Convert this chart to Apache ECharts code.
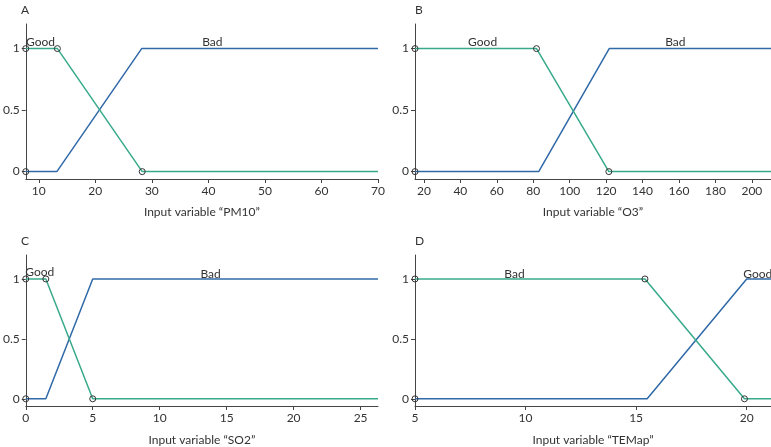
<!DOCTYPE html>
<html>
<head>
<meta charset="utf-8">
<title>Fuzzy membership functions</title>
<script type="text/javascript" src="https://cdn.jsdelivr.net/npm/echarts@6/dist/echarts.min.js"></script>
<style>
  html, body { margin: 0; padding: 0; background: #fff; }
</style>
</head>
<body>

<div id="main" style="width: 771px; height: 447px;"></div>

<script type="text/javascript">
// panel A - PM10
var pm10Range = [7.7, 70];
var pm10Ticks = [10, 20, 30, 40, 50, 60, 70];
var pm10GoodX = [7.7, 13.3, 28.3, 70];
var pm10GoodY = [1, 1, 0, 0];
var pm10BadX = [7.7, 13.2, 28.2, 70];
var pm10BadY = [0, 0, 1, 1];
var pm10Labels = [['Good', 10.3, 1.05], ['Bad', 40.7, 1.05]];

// panel B - O3
var o3Range = [15.1, 210.5];
var o3Ticks = [20, 40, 60, 80, 100, 120, 140, 160, 180, 200];
var o3GoodX = [15.1, 81.8, 121.5, 210.5];
var o3GoodY = [1, 1, 0, 0];
var o3BadX = [15.1, 83, 121.7, 210.5];
var o3BadY = [0, 0, 1, 1];
var o3Labels = [['Good', 52.2, 1.05], ['Bad', 158, 1.05]];

// panel C - SO2
var so2Range = [0, 26.3];
var so2Ticks = [0, 5, 10, 15, 20, 25];
var so2GoodX = [0, 1.5, 5, 26.3];
var so2GoodY = [1, 1, 0, 0];
var so2BadX = [0, 1.5, 5, 26.3];
var so2BadY = [0, 0, 1, 1];
var so2Labels = [['Good', 1.05, 1.06], ['Bad', 13.8, 1.04]];

// panel D - TEMap (green is "Bad" here)
var temRange = [5, 21.1];
var temTicks = [5, 10, 15, 20];
var temGreenX = [5, 15.4, 19.9, 21.1];
var temGreenY = [1, 1, 0, 0];
var temBlueX = [5, 15.5, 20, 21.1];
var temBlueY = [0, 0, 1, 1];
var temLabels = [['Bad', 9.5, 1.04], ['Good', 20.5, 1.04]];

var yTicks = [0, 0.5, 1];
var panelNames = ['A', 'B', 'C', 'D'];
var axisTitles = ['Input variable \u201cPM10\u201d', 'Input variable \u201cO3\u201d',
                  'Input variable \u201cSO2\u201d', 'Input variable \u201cTEMap\u201d'];

var GREEN = '#38aa8b';
var BLUE = '#3069a8';
var AXIS = '#444';
var TEXT = '#333';
var FONT = 'Lato';

var panels = [
  { range: pm10Range, ticks: pm10Ticks, gx: pm10GoodX, gy: pm10GoodY, bx: pm10BadX, by: pm10BadY, labels: pm10Labels },
  { range: o3Range, ticks: o3Ticks, gx: o3GoodX, gy: o3GoodY, bx: o3BadX, by: o3BadY, labels: o3Labels },
  { range: so2Range, ticks: so2Ticks, gx: so2GoodX, gy: so2GoodY, bx: so2BadX, by: so2BadY, labels: so2Labels },
  { range: temRange, ticks: temTicks, gx: temGreenX, gy: temGreenY, bx: temBlueX, by: temBlueY, labels: temLabels }
];

// grid boxes (left, top, width, height) and gap of axis title
var boxes = [
  [21, 24, 357, 155, 27],
  [415, 24, 356, 155, 27],
  [21, 255, 357, 157, 28],
  [415, 255, 356, 157, 28]
];

function zip(xs, ys) {
  var out = [];
  for (var i = 0; i < xs.length; i++) out.push([xs[i], ys[i]]);
  return out;
}

var grids = [], xAxes = [], yAxes = [], series = [], titles = [];
var dot = { color: 'transparent', borderColor: '#333', borderWidth: 1 };

panels.forEach(function (p, i) {
  var b = boxes[i];
  grids.push({ left: b[0], top: b[1], width: b[2], height: b[3], containLabel: false });
  titles.push({
    text: panelNames[i], left: b[0] - 5, top: b[1] - 25,
    textStyle: { fontFamily: FONT, fontSize: 12, fontWeight: 'normal', color: TEXT }
  });
  xAxes.push({
    gridIndex: i, type: 'value', min: p.range[0], max: p.range[1],
    name: axisTitles[i], nameLocation: 'middle', nameGap: b[4],
    nameTextStyle: { fontFamily: FONT, fontSize: 12, color: TEXT },
    axisLine: { onZero: false, lineStyle: { color: AXIS, width: 1 } },
    axisTick: { show: true, length: 4, customValues: p.ticks, lineStyle: { color: AXIS } },
    axisLabel: { customValues: p.ticks, margin: 6, fontFamily: FONT, fontSize: 12, color: TEXT,
                 showMinLabel: true, showMaxLabel: true },
    splitLine: { show: false }
  });
  yAxes.push({
    gridIndex: i, type: 'value', min: -0.06, max: 1.2,
    axisLine: { show: true, lineStyle: { color: AXIS, width: 1 } },
    axisTick: { show: true, length: 4, customValues: yTicks, lineStyle: { color: AXIS } },
    axisLabel: { customValues: yTicks, margin: 6, fontFamily: FONT, fontSize: 12, color: TEXT },
    splitLine: { show: false }
  });
  var nG = p.gx.length;
  series.push({
    type: 'line', xAxisIndex: i, yAxisIndex: i, data: zip(p.bx, p.by),
    lineStyle: { color: BLUE, width: 1.5 },
    itemStyle: dot,
    symbol: function (v, params) { return params.dataIndex === 0 ? 'circle' : 'none'; },
    symbolSize: 6, animation: false, z: 2
  });
  series.push({
    type: 'line', xAxisIndex: i, yAxisIndex: i, data: zip(p.gx, p.gy),
    lineStyle: { color: GREEN, width: 1.5 },
    itemStyle: dot,
    symbol: function (v, params) { return params.dataIndex < nG - 1 ? 'circle' : 'none'; },
    symbolSize: 6, animation: false, z: 3,
    markPoint: {
      symbol: 'circle', symbolSize: 1, silent: true,
      itemStyle: { color: 'transparent', borderWidth: 0 },
      label: { show: true, position: 'inside', fontFamily: FONT, fontSize: 12, color: TEXT,
               formatter: function (prm) { return prm.name; } },
      data: p.labels.map(function (l) { return { name: l[0], coord: [l[1], l[2]] }; })
    }
  });
});

var myChart = echarts.init(document.getElementById('main'), null, { renderer: 'canvas' });
myChart.setOption({
  backgroundColor: '#fff',
  animation: false,
  title: titles,
  grid: grids,
  xAxis: xAxes,
  yAxis: yAxes,
  series: series
});
</script>

</body>
</html>
